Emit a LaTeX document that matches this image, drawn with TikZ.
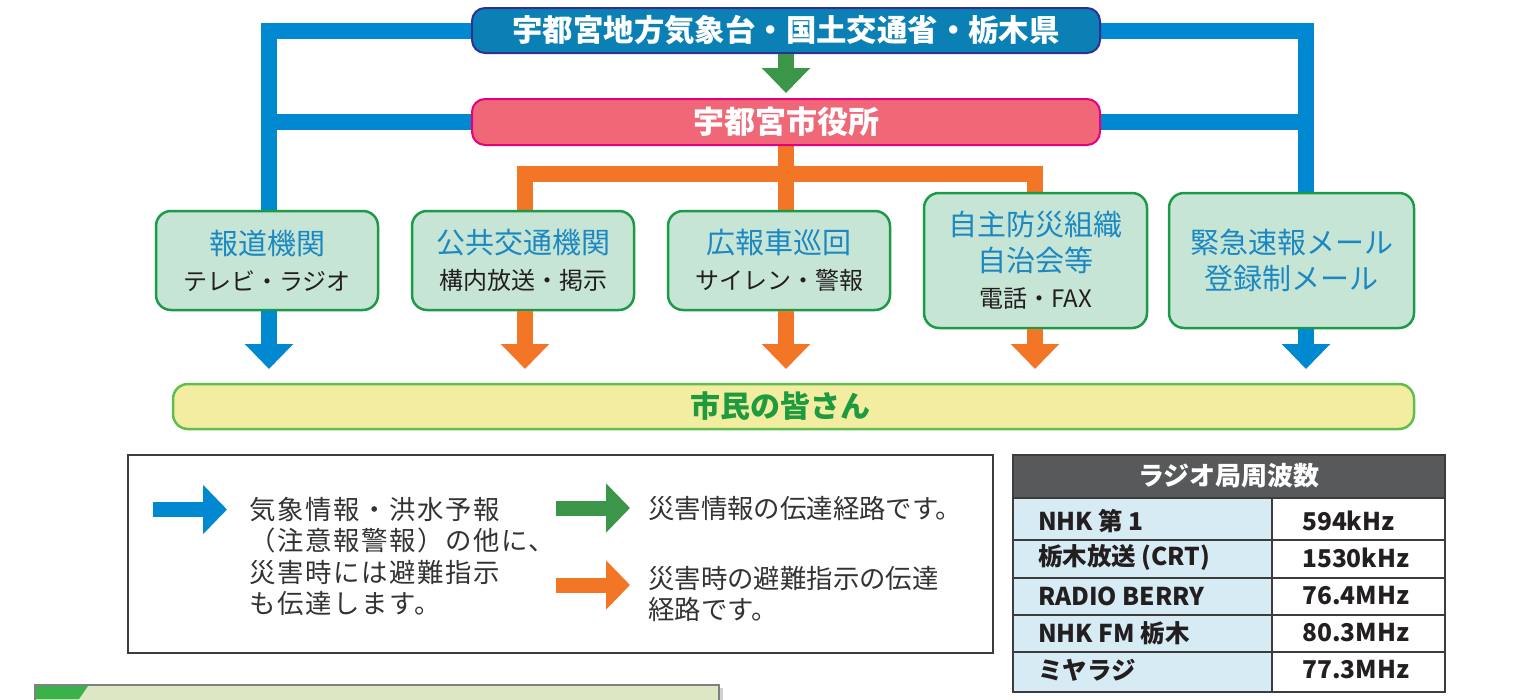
\documentclass[tikz,border=0pt]{standalone}
\usepackage{fontspec}
\setmainfont{Noto Sans CJK JP}
\usetikzlibrary{arrows.meta,backgrounds}
\definecolor{bluec}{HTML}{0089D0}
\definecolor{topfill}{HTML}{0B80B5}
\definecolor{topborder}{HTML}{2E3192}
\definecolor{pinkfill}{HTML}{F06877}
\definecolor{pinkborder}{HTML}{E5007F}
\definecolor{orangec}{HTML}{F37526}
\definecolor{greenc}{HTML}{3B9649}
\definecolor{boxfill}{HTML}{C7E5D5}
\definecolor{boxborder}{HTML}{1B9A48}
\definecolor{titleblue}{HTML}{1C88C2}
\definecolor{darktext}{HTML}{231F20}
\definecolor{citfill}{HTML}{F3EDA1}
\definecolor{citborder}{HTML}{62BD4F}
\definecolor{cittext}{HTML}{1E9A3F}
\definecolor{tablehead}{HTML}{58595B}
\definecolor{tableleft}{HTML}{D6EBF3}
\definecolor{tableline}{HTML}{3C3C3C}
\definecolor{legtext}{HTML}{333333}
\definecolor{stripfill}{HTML}{DCE8C4}
\definecolor{stripgreen}{HTML}{3BB149}
\begin{document}
\begin{tikzpicture}[x=1pt,y=-1pt,
  bar/.style={line width=16pt},
  downtip/.style={-{Triangle[width=47pt,length=25pt]}},
  legarrow/.style={line width=15pt,-{Triangle[width=48pt,length=24pt]}},
  headbox/.style={line width=2pt, rounded corners=13pt, inner sep=0pt, minimum width=628pt, text=white},
  card/.style={draw=boxborder, line width=2.5pt, fill=boxfill, rounded corners=15pt, inner sep=0pt, align=center, text=titleblue, font=\fontsize{29}{36}\selectfont},
  legtxt/.style={inner sep=0pt, anchor=north west, align=left, text=legtext, font=\fontsize{26.4}{31.5}\selectfont},
  tabtxt/.style={inner sep=0pt, anchor=west, text=darktext, font=\bfseries\fontsize{24.5}{24.5}\selectfont}
]
\useasboundingbox (0,0) rectangle (1515,699);

% reference coordinates
\coordinate (L) at (269,0);
\coordinate (R) at (1306,0);
\coordinate (M) at (786,0);
\coordinate (O2) at (525,0);
\coordinate (O4) at (1035,0);
\coordinate (H) at (0,174);
\coordinate (T) at (0,369);

% main boxes
\node[headbox, draw=topborder, fill=topfill, minimum height=45pt, font=\bfseries\fontsize{30.4}{30.4}\selectfont] (top) at (786,30.5) {宇都宮地方気象台・国土交通省・栃木県};
\node[headbox, draw=pinkborder, fill=pinkfill, minimum height=46pt, font=\bfseries\fontsize{31}{31}\selectfont] (pink) at (786,122) {宇都宮市役所};

\node[card, minimum width=222pt, minimum height=99pt] (b1) at (267,260.5)
  {報道機関\\{\color{darktext}\fontsize{24}{36}\selectfont テレビ・ラジオ}};
\node[card, minimum width=222pt, minimum height=99pt] (b2) at (523,260.5)
  {公共交通機関\\{\color{darktext}\fontsize{24}{36}\selectfont 構内放送・掲示}};
\node[card, minimum width=222pt, minimum height=99pt] (b3) at (779,260.5)
  {広報車巡回\\{\color{darktext}\fontsize{24}{36}\selectfont サイレン・警報}};
\node[card, minimum width=223pt, minimum height=135pt] (b4) at (1035.5,260.5)
  {自主防災組織\\自治会等\\{\color{darktext}\fontsize{24}{36}\selectfont 電話・FAX}};
\node[card, minimum width=245pt, minimum height=135pt] (b5) at (1291.5,260.5)
  {緊急速報メール\\登録制メール};

\node[draw=citborder, line width=2.5pt, fill=citfill, rounded corners=15pt, inner sep=0pt,
  minimum width=1241pt, minimum height=45pt, text=cittext,
  font=\bfseries\fontsize{30}{30}\selectfont] (cit) at (793.5,406.5) {市民の皆さん\hspace*{26pt}};

% connectors behind boxes
\begin{pgfonlayer}{background}
\draw[bar, bluec] (top.west) -| (L |- b1.north);
\draw[bar, bluec] (pink.west) -- (pink.west -| L);
\draw[bar, bluec] (top.east) -| (R |- b5.north);
\draw[bar, bluec] (pink.east) -- (pink.east -| R);
\draw[bar, orangec] (pink.south) -- (M |- b3.north);
\draw[bar, orangec] (O2 |- b2.north) |- (O4 |- H) -- (O4 |- b4.north);
\end{pgfonlayer}

\draw[bar, greenc, downtip, shorten >=5pt] (top.south) -- (pink.north);

\draw[bar, bluec, downtip] (L |- b1.south) -- (L |- T);
\draw[bar, orangec, downtip] (O2 |- b2.south) -- (O2 |- T);
\draw[bar, orangec, downtip] (M |- b3.south) -- (M |- T);
\draw[bar, orangec, downtip] (O4 |- b4.south) -- (O4 |- T);
\draw[bar, bluec, downtip] (R |- b5.south) -- (R |- T);

% legend
\node[draw=tableline, line width=2.5pt, inner sep=0pt, minimum width=865pt, minimum height=198pt] (leg) at (560.5,554) {};
\coordinate (la1) at (153,509.5);
\coordinate (la1e) at (227,509.5);
\coordinate (la2) at (556,508);
\coordinate (la2e) at (630,508);
\coordinate (la3) at (556,585);
\coordinate (la3e) at (630,585);
\draw[legarrow, bluec] (la1) -- (la1e);
\draw[legarrow, greenc] (la2) -- (la2e);
\draw[legarrow, orangec] (la3) -- (la3e);
\node[legtxt, font=\addfontfeature{LetterSpace=6}\fontsize{26.4}{31.5}\selectfont] (lt1) at (249,497) {気象情報・洪水予報\\（注意報警報）の他に、\\災害時には避難指示\\も伝達します。};
\node[legtxt, anchor=west] (lt2) at (648,508) {災害情報の伝達経路です。};
\node[legtxt] (lt3) at (648,566) {災害時の避難指示の伝達\\経路です。};

% radio table
\fill[tablehead] (1013,455) rectangle (1445,498);
\fill[tableleft] (1013,498) rectangle (1272,692);
\fill[white] (1272,498) rectangle (1445,692);
\foreach \yy in {498,540,578,615,652} \draw[tableline, line width=2pt] (1013,\yy) -- (1445,\yy);
\draw[tableline, line width=2pt] (1272,498) -- (1272,692);
\draw[tableline, line width=2.5pt] (1013,455) rectangle (1445,692);
\node[inner sep=0pt, text=white, font=\bfseries\fontsize{26}{26}\selectfont] (th) at (1229,476) {ラジオ局周波数};
\node[tabtxt] (r1a) at (1038,521) {NHK 第 1};
\node[tabtxt] (r2a) at (1038,558) {栃木放送 (CRT)};
\node[tabtxt] (r3a) at (1038,596) {RADIO BERRY};
\node[tabtxt] (r4a) at (1038,633) {NHK FM 栃木};
\node[tabtxt] (r5a) at (1038,670) {ミヤラジ};
\node[tabtxt] (r1b) at (1302,521) {594kHz};
\node[tabtxt] (r2b) at (1302,558) {1530kHz};
\node[tabtxt] (r3b) at (1302,596) {76.4MHz};
\node[tabtxt] (r4b) at (1302,633) {80.3MHz};
\node[tabtxt] (r5b) at (1302,670) {77.3MHz};

% partial strip at bottom left
\fill[black!18] (38,688) rectangle (723,705);
\filldraw[fill=stripfill, draw=gray, line width=1.5pt] (35,685) rectangle (719,705);
\fill[stripgreen] (36,686) -- (88,686) -- (79,699) -- (36,699) -- cycle;
\end{tikzpicture}
\end{document}
